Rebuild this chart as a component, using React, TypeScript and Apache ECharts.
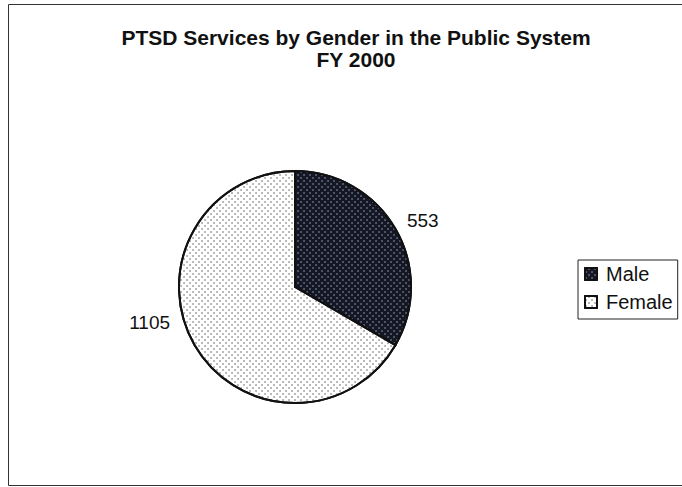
import React, { useEffect, useRef } from "react";
import * as echarts from "echarts";

const categories = ["Male", "Female"];
const values = [553, 1105];
const titleLines = ["PTSD Services by Gender in the Public System", "FY 2000"];

export default function App() {
  const ref = useRef<HTMLDivElement>(null);
  useEffect(() => {
    const chart = echarts.init(ref.current!, null, { renderer: "svg" });
    const font = "'Liberation Sans', Arial, sans-serif";
    const labelShift = [
      [3, -7],
      [-16, -24],
    ];
    chart.setOption({
      animation: false,
      backgroundColor: "#ffffff",
      title: {
        text: titleLines.join("\n"),
        left: 351,
        textAlign: "center",
        top: 21,
        textStyle: { fontFamily: font, fontSize: 21, fontWeight: "bold", color: "#111", lineHeight: 22 },
      },
      legend: {
        orient: "vertical",
        left: 578,
        top: 260,
        data: categories,
        icon: "rect",
        itemWidth: 12,
        itemHeight: 12,
        itemGap: 8,
        padding: [4, 5, 7, 6],
        borderColor: "#222",
        borderWidth: 1,
        textStyle: { fontFamily: font, fontSize: 20, color: "#111", padding: [0, 0, 0, 4] },
      },
      graphic: [
        {
          type: "rect",
          shape: { x: 8.5, y: 4.5, width: 700, height: 481 },
          style: { fill: "none", stroke: "#333", lineWidth: 1 },
          silent: true,
        },
      ],
      series: [
        {
          type: "pie",
          center: [295, 287],
          radius: 116,
          startAngle: 90,
          clockwise: true,
          label: {
            show: true,
            position: "outside",
            formatter: "{c}",
            fontFamily: font,
            fontSize: 19,
            color: "#111",
          },
          labelLayout: (p: any) => ({ dx: labelShift[p.dataIndex][0], dy: labelShift[p.dataIndex][1] }),
          labelLine: { show: false, length: 4, length2: 0 },
          itemStyle: { borderColor: "#111", borderWidth: 2 },
          data: [
            {
              name: categories[0],
              value: values[0],
              itemStyle: {
                color: "#141726",
                decal: {
                  symbol: "circle",
                  symbolSize: 0.6,
                  color: "#c8c8d0",
                  dashArrayX: [[2, 4], [0, 3, 2, 1]],
                  dashArrayY: [2, 1],
                  rotation: 0,
                },
              },
            },
            {
              name: categories[1],
              value: values[1],
              itemStyle: {
                color: "#ffffff",
                decal: {
                  symbol: "circle",
                  symbolSize: 0.6,
                  color: "#333",
                  dashArrayX: [[2, 4], [0, 3, 2, 1]],
                  dashArrayY: [2, 1],
                  rotation: 0,
                },
              },
            },
          ],
        },
      ],
    });
    return () => chart.dispose();
  }, []);
  return <div ref={ref} style={{ position: "fixed", left: 0, top: 0, width: 682, height: 487 }} />;
}
